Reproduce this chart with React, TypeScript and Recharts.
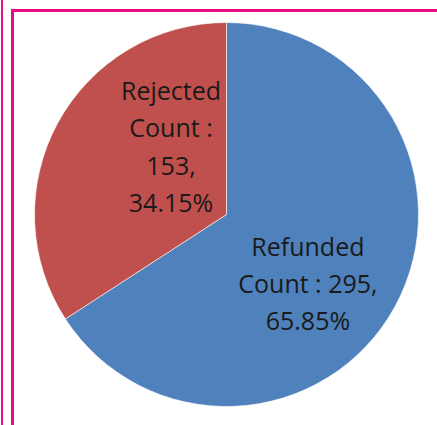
import { PieChart, Pie, Cell } from 'recharts';

const categories = ['Refunded', 'Rejected'];
const counts = [295, 153];
const percents = ['65.85%', '34.15%'];

const COLORS = ['#4f81bd', '#c0504d'];
// label block centre, as fraction of radius from the pie centre
const LABEL_OFFSETS = [
  { dx: 0.424, dy: 0.362 },
  { dx: -0.289, dy: -0.352 },
];
const LINE_H = 37.3;

const data = categories.map((name, i) => ({ name, value: counts[i], pct: percents[i] }));

const labelLines = (i: number) =>
  i === 0
    ? [`${categories[i]}`, `Count : ${counts[i]},`, percents[i]]
    : [`${categories[i]}`, 'Count :', `${counts[i]},`, percents[i]];

function renderLabel(props: any) {
  const { cx, cy, outerRadius, index } = props;
  const off = LABEL_OFFSETS[index];
  const x = cx + off.dx * outerRadius;
  const centerY = cy + off.dy * outerRadius;
  const lines = labelLines(index);
  const firstY = centerY - ((lines.length - 1) * LINE_H) / 2 + 9;
  return (
    <text
      key={`lbl-${index}`}
      x={x}
      y={firstY}
      textAnchor="middle"
      fill="#1a1a1a"
      style={{ fontFamily: '"Open Sans", sans-serif', fontSize: 25 }}
    >
      {lines.map((l, j) => (
        <tspan key={j} x={x} y={firstY + j * LINE_H}>
          {l}
        </tspan>
      ))}
    </text>
  );
}

export default function App() {
  return (
    <div style={{ position: 'absolute', left: 0, top: 0, width: 437, height: 425, background: '#fff', overflow: 'hidden' }}>
      <style>{'body{margin:0}'}</style>
      <div style={{ position: 'absolute', left: 1, top: 0, width: 2, height: 425, background: '#ec0a8b' }} />
      <div style={{ position: 'absolute', left: 11, top: 9, width: 3, height: 416, background: '#ec0a8b' }} />
      <div style={{ position: 'absolute', left: 11, top: 9, width: 426, height: 3, background: '#ec0a8b' }} />
      <div style={{ position: 'absolute', left: 0, top: 0 }}>
        <PieChart width={437} height={425} margin={{ top: 0, right: 0, bottom: 0, left: 0 }}>
          <Pie
            data={data}
            dataKey="value"
            nameKey="name"
            cx={226.5}
            cy={214.5}
            outerRadius={192}
            startAngle={90}
            endAngle={-270}
            stroke="#ffffff"
            strokeWidth={0.6}
            label={renderLabel}
            labelLine={false}
            isAnimationActive={false}
          >
            {data.map((d, i) => (
              <Cell key={d.name} fill={COLORS[i]} />
            ))}
          </Pie>
        </PieChart>
      </div>
    </div>
  );
}
